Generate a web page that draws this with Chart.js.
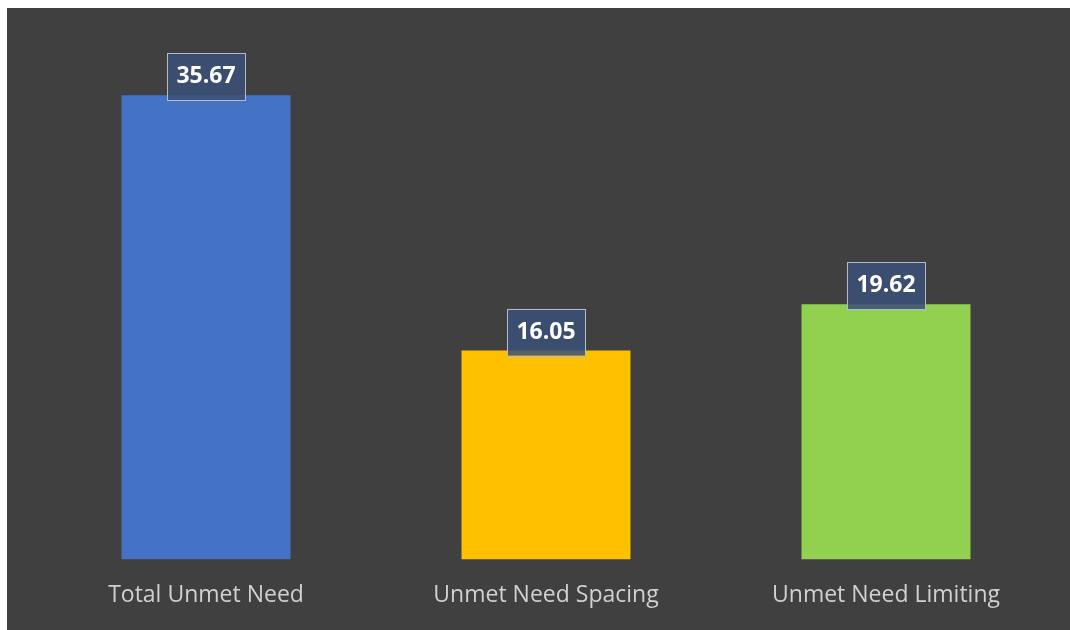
<!DOCTYPE html>
<html>
<head>
<meta charset="utf-8">
<script src="https://cdn.jsdelivr.net/npm/chart.js@4/dist/chart.umd.min.js"></script>
<style>
  html, body { margin: 0; padding: 0; background: #ffffff; }
  #wrap { position: absolute; left: 7px; top: 8px; width: 1063px; height: 622px; background: #404040; }
  canvas { display: block; }
</style>
</head>
<body>
<div id="wrap"><canvas id="c" width="1063" height="622"></canvas></div>
<script>
const categories = ["Total Unmet Need", "Unmet Need Spacing", "Unmet Need Limiting"];
const values = [35.67, 16.05, 19.62];
const barColors = ["#4472C4", "#FFC000", "#92D050"];

const valueLabels = {
  id: 'valueLabels',
  afterDatasetsDraw(chart) {
    const ctx = chart.ctx;
    const meta = chart.getDatasetMeta(0);
    ctx.save();
    ctx.font = 'bold 23px "Open Sans", sans-serif';
    ctx.textAlign = 'center';
    ctx.textBaseline = 'middle';
    meta.data.forEach((bar, i) => {
      const txt = values[i].toFixed(2);
      const w = 78, h = 47;
      const cx = bar.x, top = bar.y - 42;
      ctx.fillStyle = 'rgba(60,80,120,0.87)';
      ctx.fillRect(cx - w / 2, top, w, h);
      ctx.strokeStyle = '#b4bccb';
      ctx.lineWidth = 1;
      ctx.strokeRect(Math.round(cx - w / 2) + 0.5, Math.round(top) + 0.5, w, h);
      ctx.fillStyle = '#ffffff';
      ctx.fillText(txt, cx, top + h / 2);
    });
    ctx.restore();
  }
};

new Chart(document.getElementById('c'), {
  type: 'bar',
  data: {
    labels: categories,
    datasets: [{
      data: values,
      backgroundColor: barColors,
      borderWidth: 0,
      barPercentage: 0.497,
      categoryPercentage: 1.0
    }]
  },
  options: {
    responsive: false,
    animation: false,
    layout: { padding: { left: 29, right: 14, top: 31, bottom: 7 } },
    plugins: { legend: { display: false }, tooltip: { enabled: false } },
    scales: {
      y: { display: false, min: 0, max: 40 },
      x: {
        grid: { display: false },
        border: { display: false },
        ticks: { color: '#d0d0d0', font: { family: '"Open Sans", sans-serif', size: 23 }, padding: 14 }
      }
    }
  },
  plugins: [valueLabels]
});
</script>
</body>
</html>
